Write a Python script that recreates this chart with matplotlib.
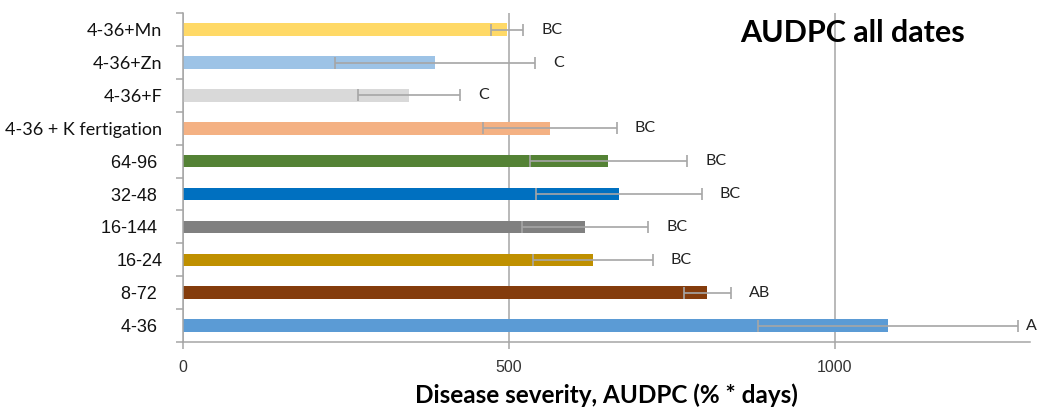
import numpy as np
import matplotlib.pyplot as plt

# treatments, bottom to top as drawn
labels = ['4-36 ', '8-72 ', '16-24', '16-144 ', '32-48 ', '64-96 ',
          '4-36 + K fertigation', '4-36+F', '4-36+Zn', '4-36+Mn']
audpc = [1082, 805, 629, 617, 669, 653, 563, 347, 387, 497]
err = [199, 36, 92, 97, 127, 121, 103, 78, 153, 25]
letters = ['A', 'AB', 'BC', 'BC', 'BC', 'BC', 'BC', 'C', 'C', 'BC']
colors = ['#5B9BD5', '#843C0C', '#BF9000', '#808080', '#0070C0', '#548235',
          '#F4B183', '#D9D9D9', '#9DC3E6', '#FFD966']

fig = plt.figure(figsize=(10.42, 4.12), dpi=100)
ax = fig.add_axes([0.1756, 0.170, 0.8129, 0.798])

y = np.arange(len(labels))
ax.barh(y, audpc, height=0.38, color=colors, zorder=2)
ax.errorbar(audpc, y, xerr=err, fmt='none', ecolor='#A6A6A6',
            elinewidth=1.2, capsize=4, capthick=1.2, zorder=3)

for i in range(len(labels)):
    pad = 6 if audpc[i] + err[i] > 1200 else 13
    ax.annotate(letters[i], (audpc[i] + err[i], y[i]), xytext=(pad, 0),
                textcoords='offset points', va='center', ha='left',
                fontsize=11.5, family='Lato', color='#222222',
                annotation_clip=False)

ax.set_xlim(0, 1300)
ax.set_ylim(-0.5, 9.5)
ax.set_xticks([0, 500, 1000])
ax.set_xticklabels(['0', '500', '1000'], family='Liberation Sans', fontsize=11.5,
                   color='#333333')
ax.xaxis.grid(True, color='#A6A6A6', linewidth=1.1, zorder=0)
ax.set_axisbelow(True)

ax.set_yticks(y)
ax.set_yticklabels(labels, fontsize=13)
for i, t in enumerate(ax.get_yticklabels()):
    t.set_family('Lato' if i >= 6 else 'Liberation Sans')
    t.set_color('#111111')
ax.set_yticks(np.arange(-0.5, 10, 1), minor=True)
ax.tick_params(axis='y', which='major', length=0, pad=15)
ax.tick_params(axis='y', which='minor', length=5, color='#A6A6A6', width=1.1)
ax.tick_params(axis='x', length=5, color='#A6A6A6', width=1.1, pad=8)

for s in ['top', 'right']:
    ax.spines[s].set_visible(False)
for s in ['left', 'bottom']:
    ax.spines[s].set_color('#A6A6A6')
    ax.spines[s].set_linewidth(1.1)

ax.set_xlabel('Disease severity, AUDPC (% * days)', family='Lato',
              fontweight='bold', fontsize=17.5, labelpad=6)
fig.text(0.8186, 0.92, 'AUDPC all dates', family='Lato', fontweight='bold',
         fontsize=22, ha='center', va='center')

fig.savefig('out.png', dpi=100)
